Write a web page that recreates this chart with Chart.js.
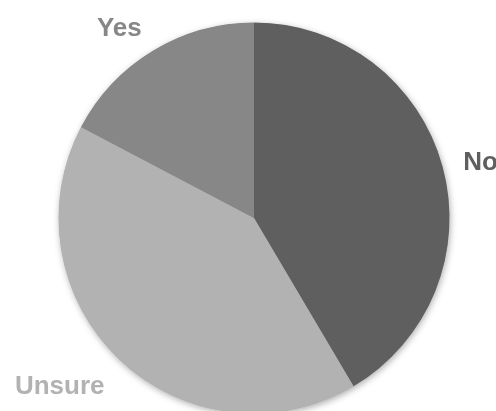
<!DOCTYPE html>
<html lang="en">
<head>
  <meta charset="UTF-8">
  <title>Pie</title>
  <script src="https://cdn.jsdelivr.net/npm/chart.js"></script>
  <style>
    html, body { margin: 0; padding: 0; background: #fff; }
    #wrap { width: 496px; height: 411px; }
  </style>
</head>
<body>
<div id="wrap"><canvas id="pieChart" width="496" height="411"></canvas></div>

<script>
  const labels = ["No", "Unsure", "Yes"];
  const values = [41.5, 41.2, 17.3];
  const colors = ["#5f5f5f", "#b2b2b2", "#878787"];

  // soft shadow under the whole pie
  const pieShadow = {
    id: 'pieShadow',
    beforeDatasetsDraw(chart) {
      const arc = chart.getDatasetMeta(0).data[0];
      if (!arc) return;
      const ctx = chart.ctx;
      ctx.save();
      ctx.shadowColor = 'rgba(0,0,0,0.35)';
      ctx.shadowBlur = 7;
      ctx.shadowOffsetX = 1;
      ctx.shadowOffsetY = 2;
      ctx.fillStyle = '#999';
      ctx.beginPath();
      ctx.arc(arc.x, arc.y, arc.outerRadius - 0.5, 0, Math.PI * 2);
      ctx.fill();
      ctx.restore();
    }
  };

  // category names outside the slices, Excel style
  const outsideLabels = {
    id: 'outsideLabels',
    afterDatasetsDraw(chart) {
      const ctx = chart.ctx;
      const capH = 18.6;
      ctx.save();
      ctx.font = 'bold 26px "Liberation Sans", Arial, sans-serif';
      ctx.textBaseline = 'alphabetic';
      chart.getDatasetMeta(0).data.forEach((arc, i) => {
        const mid = (arc.startAngle + arc.endAngle) / 2;
        const r = arc.outerRadius + 21.5;
        const px = arc.x + r * Math.cos(mid);
        const py = arc.y + r * Math.sin(mid);
        const cy = py + (capH / 2) * Math.sin(mid) + 2.5;
        ctx.fillStyle = colors[i];
        ctx.textAlign = Math.cos(mid) >= 0 ? 'left' : 'right';
        ctx.fillText(labels[i], px, cy + capH / 2);
      });
      ctx.restore();
    }
  };

  new Chart(document.getElementById("pieChart"), {
    type: 'pie',
    data: {
      labels: labels,
      datasets: [{
        data: values,
        backgroundColor: colors,
        borderWidth: 0,
        radius: 195.5
      }]
    },
    options: {
      responsive: false,
      animation: false,
      layout: { padding: { left: 12, right: 0, top: 25, bottom: 0 } },
      plugins: {
        legend: { display: false },
        tooltip: { enabled: false }
      }
    },
    plugins: [pieShadow, outsideLabels]
  });
</script>
</body>
</html>
